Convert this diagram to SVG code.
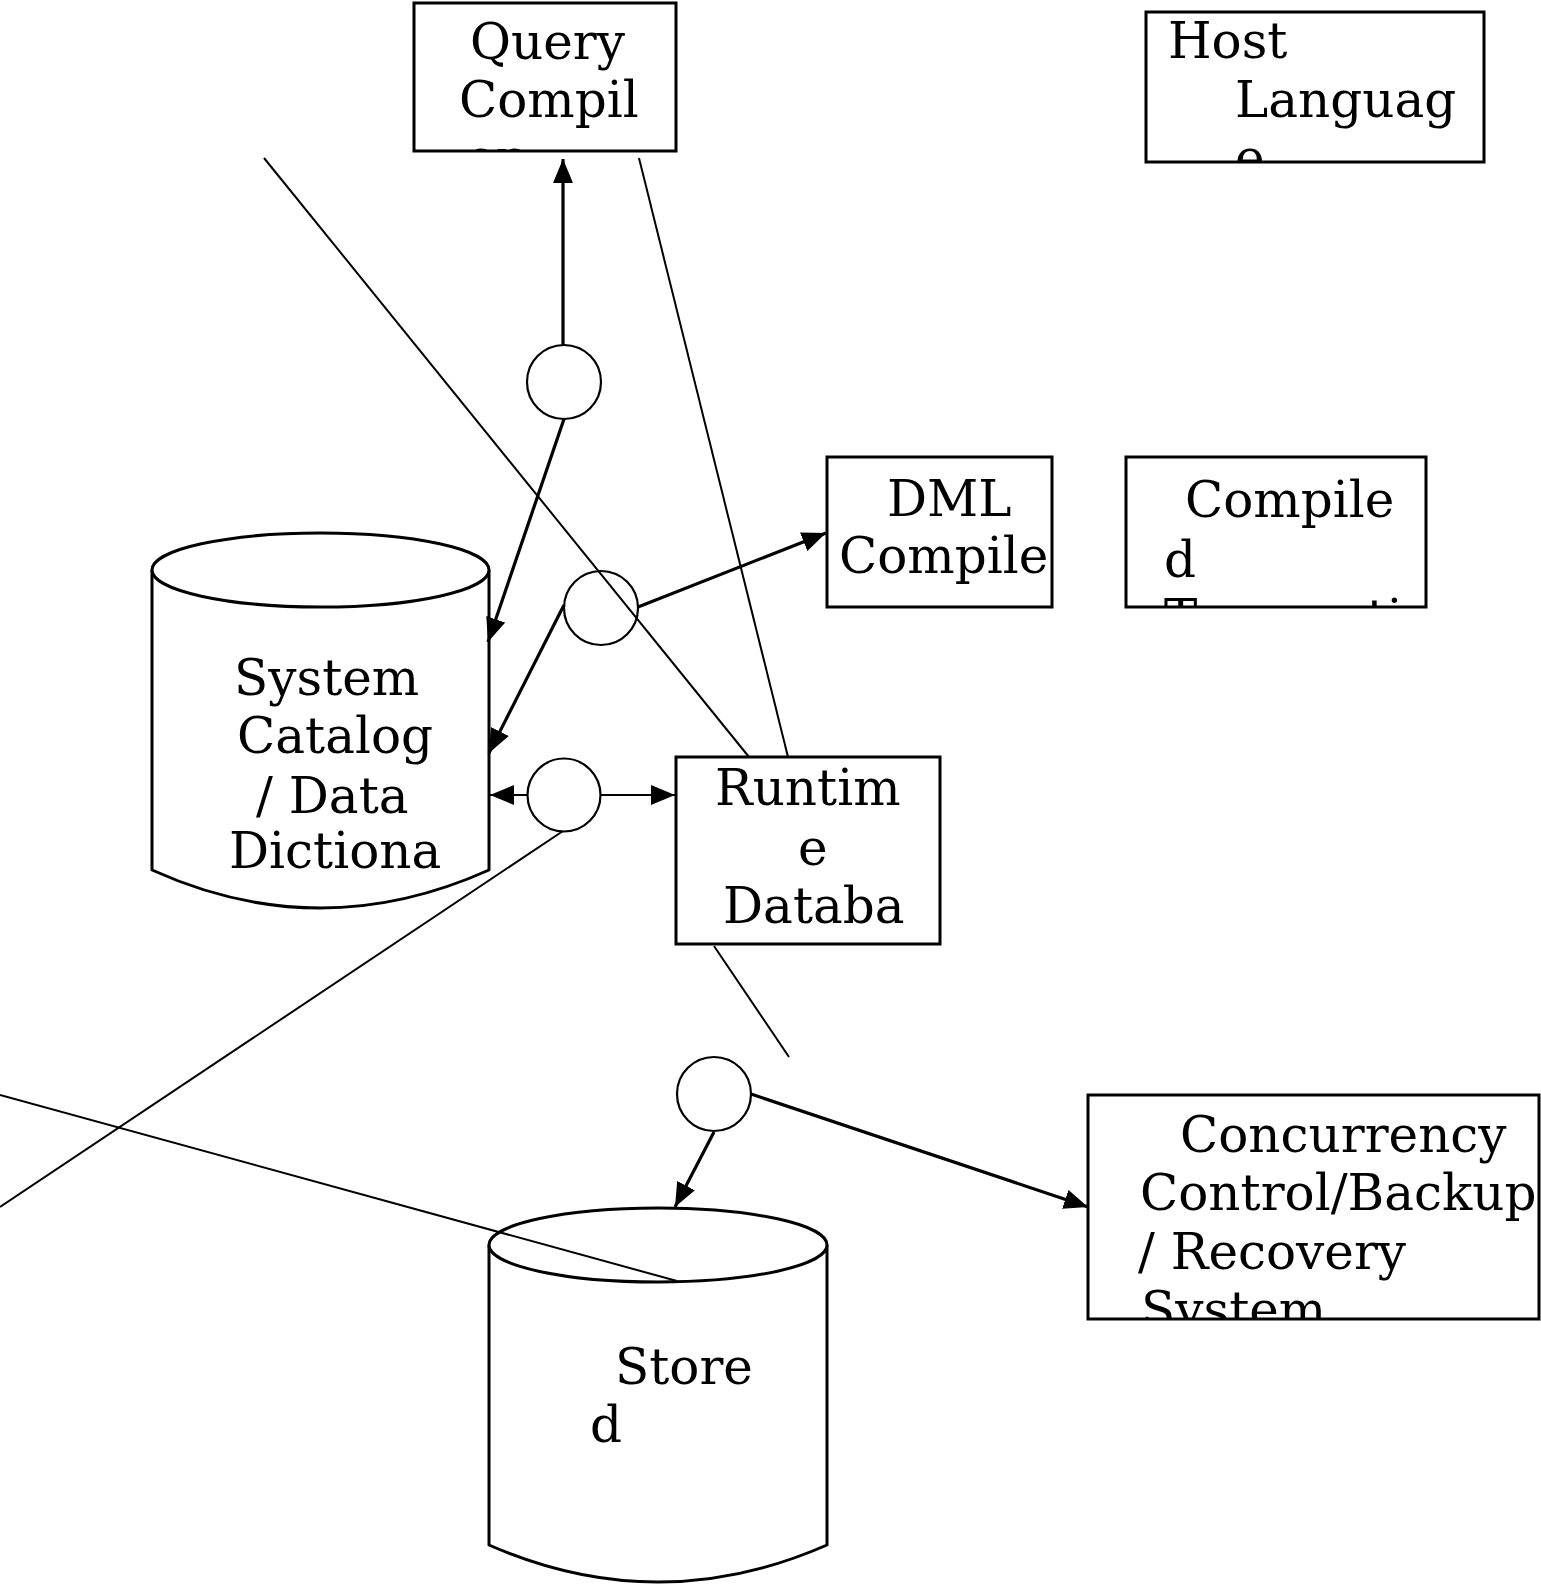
<svg xmlns="http://www.w3.org/2000/svg" width="1541" height="1585" viewBox="0 0 1541 1585">
<style>
.box{fill:#fff;stroke:#000;stroke-width:3}
.cyl{fill:#fff;stroke:#000;stroke-width:3;stroke-linejoin:round}
.circ{fill:#fff;stroke:#000;stroke-width:2.2}
.t{font-family:"DejaVu Serif","Liberation Serif",serif;font-size:50px;fill:#000}
.arr{stroke:#000;stroke-width:3.2;fill:none;marker-end:url(#ah)}
.arr2{stroke:#000;stroke-width:2.2;fill:none;marker-end:url(#ah)}
.ln{stroke:#000;stroke-width:2;fill:none}
</style>
<defs>
<marker id="ah" viewBox="0 0 24 20" refX="24" refY="10" markerWidth="24" markerHeight="20" markerUnits="userSpaceOnUse" orient="auto"><path d="M0,0 L24,10 L0,20 Z" fill="#000"/></marker>
<clipPath id="cQ"><rect x="414" y="3" width="262" height="148"/></clipPath>
<clipPath id="cH"><rect x="1146" y="12" width="338" height="150"/></clipPath>
<clipPath id="cD"><rect x="827" y="457" width="225" height="150"/></clipPath>
<clipPath id="cC"><rect x="1126" y="457" width="300" height="150"/></clipPath>
<clipPath id="cR"><rect x="676" y="757" width="264" height="187"/></clipPath>
<clipPath id="cK"><rect x="1088" y="1095" width="451" height="224"/></clipPath>
</defs>
<rect width="1541" height="1585" fill="#fff"/>

<g id="system-catalog">
<path class="cyl" d="M152,570 L152,870 Q320,946 489,870 L489,570"/>
<ellipse class="cyl" cx="320.5" cy="570" rx="168.5" ry="37"/>
<text class="t" x="234" y="695">System</text>
<text class="t" x="237" y="753">Catalog</text>
<text class="t" x="256" y="813">/ Data</text>
<text class="t" x="229" y="868">Dictiona</text>
</g>

<g id="stored">
<path class="cyl" d="M489,1245 L489,1545 Q658,1619 827,1545 L827,1245"/>
<ellipse class="cyl" cx="658" cy="1245" rx="169" ry="37"/>
<text class="t" x="615" y="1384">Store</text>
<text class="t" x="590" y="1442">d</text>
</g>

<g id="query-compiler">
<rect class="box" x="414" y="3" width="262" height="148"/>
<g clip-path="url(#cQ)">
<text class="t" x="470" y="59">Query</text>
<text class="t" x="459" y="117">Compil</text>
<text class="t" x="466" y="175">er</text>
</g>
</g>

<g id="host-language">
<rect class="box" x="1146" y="12" width="338" height="150"/>
<g clip-path="url(#cH)">
<text class="t" x="1168" y="58">Host</text>
<text class="t" x="1235" y="117">Languag</text>
<text class="t" x="1235" y="175">e</text>
</g>
</g>

<g id="dml-compiler">
<rect class="box" x="827" y="457" width="225" height="150"/>
<g clip-path="url(#cD)">
<text class="t" x="887" y="516">DML</text>
<text class="t" x="839" y="573">Compile</text>
</g>
</g>

<g id="compiled-transaction">
<rect class="box" x="1126" y="457" width="300" height="150"/>
<g clip-path="url(#cC)">
<text class="t" x="1185" y="517">Compile</text>
<text class="t" x="1164" y="577">d</text>
<text class="t" x="1164" y="635">Transacti</text>
</g>
</g>

<g id="runtime-database">
<rect class="box" x="676" y="757" width="264" height="187"/>
<g clip-path="url(#cR)">
<text class="t" x="715" y="805">Runtim</text>
<text class="t" x="798" y="865">e</text>
<text class="t" x="723" y="923">Databa</text>
</g>
</g>

<g id="concurrency">
<rect class="box" x="1088" y="1095" width="451" height="224"/>
<g clip-path="url(#cK)">
<text class="t" x="1180" y="1152">Concurrency</text>
<text class="t" x="1140" y="1210">Control/Backup</text>
<text class="t" x="1138" y="1269">/ Recovery</text>
<text class="t" x="1141" y="1327">System</text>
</g>
</g>

<g id="junctions">
<circle class="circ" cx="564" cy="382" r="37"/>
<circle class="circ" cx="601" cy="608" r="37"/>
<circle class="circ" cx="564" cy="795" r="36.5"/>
<circle class="circ" cx="714" cy="1094" r="37"/>
</g>

<g id="connectors">
<line class="ln" x1="264" y1="158" x2="749" y2="757"/>
<line class="ln" x1="639" y1="158" x2="788" y2="757"/>
<line class="ln" x1="714" y1="946" x2="789" y2="1057"/>
<line class="ln" x1="563" y1="831" x2="0" y2="1207"/>
<line class="ln" x1="0" y1="1095" x2="677" y2="1281"/>
<line class="arr" x1="563" y1="345" x2="563" y2="159"/>
<line class="arr" x1="564" y1="419" x2="488" y2="642"/>
<line class="arr" x1="638" y1="607" x2="826" y2="533"/>
<line class="arr" x1="564" y1="605" x2="489" y2="753"/>
<line class="arr2" x1="527" y1="795" x2="490" y2="795"/>
<line class="arr2" x1="600" y1="795" x2="675" y2="795"/>
<line class="arr" x1="714" y1="1132" x2="675" y2="1207"/>
<line class="arr" x1="751" y1="1094" x2="1088" y2="1207"/>
</g>
</svg>
